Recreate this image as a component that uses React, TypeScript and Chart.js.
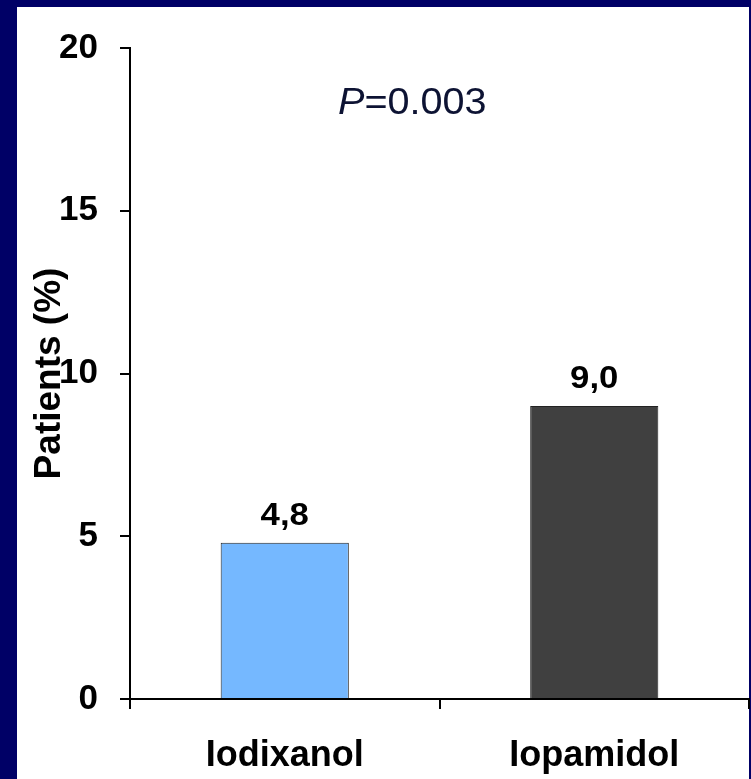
import React, { useEffect, useRef } from 'react';
import { Chart, registerables } from 'chart.js';

Chart.register(...registerables);

const categories = ['Iodixanol', 'Iopamidol'];
const values = [4.8, 9.0];
const valueLabels = ['4,8', '9,0'];
const barColors = ['#75B8FF', '#404040'];
const yMin = 0;
const yMax = 20;
const yStep = 5;
const yTitle = 'Patients (%)';
const pLetter = 'P';
const pRest = '=0.003';

const FONT = '"Liberation Sans", Arial, Helvetica, sans-serif';

export default function App() {
  const ref = useRef<HTMLCanvasElement>(null);

  useEffect(() => {
    document.body.style.margin = '0';
    const canvas = ref.current;
    if (!canvas) return;

    const bgPlugin = {
      id: 'bgPanel',
      beforeDraw(chart: any) {
        const c = chart.ctx;
        c.save();
        c.fillStyle = '#000066';
        c.fillRect(0, 0, chart.width, chart.height);
        c.fillStyle = '#ffffff';
        c.fillRect(17, 7, chart.width - 19, chart.height - 7);
        c.restore();
      },
    };

    const labelPlugin = {
      id: 'valueLabels',
      afterDatasetsDraw(chart: any) {
        const c = chart.ctx;
        const meta = chart.getDatasetMeta(0);
        c.save();
        c.fillStyle = '#000000';
        c.font = `bold 31px ${FONT}`;
        c.textAlign = 'center';
        c.textBaseline = 'alphabetic';
        meta.data.forEach((bar: any, i: number) => {
          c.save();
          c.translate(bar.x, bar.y - 18);
          c.scale(1.12, 1);
          c.fillText(valueLabels[i], 0, 0);
          c.restore();
        });
        // P value annotation
        const area = chart.chartArea;
        const x0 = area.left + 208;
        const y0 = area.top + 66;
        c.translate(x0, y0);
        c.scale(1.1, 1);
        c.fillStyle = '#0d1333';
        c.textAlign = 'left';
        c.font = `italic 36px ${FONT}`;
        c.fillText(pLetter, 0, 0);
        const w = c.measureText(pLetter).width;
        c.font = `36px ${FONT}`;
        c.fillText(pRest, w, 0);
        c.restore();
      },
    };

    const chart = new Chart(canvas, {
      type: 'bar',
      data: {
        labels: categories,
        datasets: [
          {
            data: values,
            backgroundColor: barColors,
            borderColor: '#222222',
            borderWidth: 1,
            barPercentage: 0.414,
            categoryPercentage: 1,
          },
        ],
      },
      options: {
        responsive: false,
        animation: false,
        devicePixelRatio: 1,
        layout: { padding: { top: 48, right: 2, left: 0, bottom: 0 } },
        plugins: {
          legend: { display: false },
          tooltip: { enabled: false },
        },
        scales: {
          x: {
            offset: true,
            grid: {
              offset: true,
              drawOnChartArea: false,
              drawTicks: true,
              tickLength: 10,
              color: '#000000',
              lineWidth: 2,
            },
            border: { display: true, color: '#000000', width: 2 },
            ticks: {
              color: '#000000',
              font: { family: FONT, size: 36, weight: 'bold' },
              padding: 25,
            },
            afterFit: (s: any) => {
              s.height = 80;
            },
          },
          y: {
            min: yMin,
            max: yMax,
            grid: {
              drawOnChartArea: false,
              drawTicks: true,
              tickLength: 10,
              color: '#000000',
              lineWidth: 2,
            },
            border: { display: true, color: '#000000', width: 2 },
            ticks: {
              stepSize: yStep,
              color: '#000000',
              font: { family: FONT, size: 35, weight: 'bold' },
              padding: 22,
            },
            title: {
              display: true,
              text: yTitle,
              color: '#000000',
              font: { family: FONT, size: 37, weight: 'bold' },
              padding: { top: 28, bottom: 0 },
            },
            afterFit: (s: any) => {
              s.width = 130;
            },
          },
        },
      },
      plugins: [bgPlugin, labelPlugin],
    } as any);

    return () => {
      chart.destroy();
    };
  }, []);

  return (
    <div style={{ position: 'fixed', left: 0, top: 0, width: 751, height: 779 }}>
      <canvas ref={ref} width={751} height={779} style={{ display: 'block', width: 751, height: 779 }} />
    </div>
  );
}
